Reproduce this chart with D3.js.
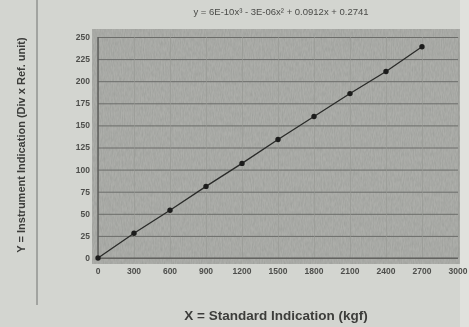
<!DOCTYPE html>
<html>
<head>
<meta charset="utf-8">
<script src="https://cdn.jsdelivr.net/npm/d3@7"></script>
<style>
  html, body { margin: 0; padding: 0; background: #d3d5d0; }
  svg { display: block; font-family: "Liberation Sans", Arial, sans-serif; }
</style>
</head>
<body>
<div id="chart"></div>
<script>
// standard indication (kgf) and instrument indication
const xValues = [0, 300, 600, 900, 1200, 1500, 1800, 2100, 2400, 2700];
const yValues = [0, 28, 54, 81, 107, 134, 160, 186, 211, 239];
const xTicks = [0, 300, 600, 900, 1200, 1500, 1800, 2100, 2400, 2700, 3000];
const yTicks = [0, 25, 50, 75, 100, 125, 150, 175, 200, 225, 250];
const equation = 'y = 6E-10x³ - 3E-06x² + 0.0912x + 0.2741';
const xTitle = 'X = Standard Indication (kgf)';
const yTitle = 'Y = Instrument Indication (Div x Ref. unit)';

const W = 469, H = 327;
const margin = {top: 37, right: 11, bottom: 69, left: 98};
const width = W - margin.left - margin.right;
const height = H - margin.top - margin.bottom;

const svg = d3.select('#chart').append('svg')
    .attr('width', W)
    .attr('height', H);

// soft look of the photographed page
const defs = svg.append('defs');
const blur = defs.append('filter').attr('id', 'soft');
blur.append('feGaussianBlur').attr('stdDeviation', 0.7);

const grain = defs.append('filter').attr('id', 'grain')
    .attr('x', 0).attr('y', 0).attr('width', 1).attr('height', 1);
grain.append('feTurbulence')
    .attr('type', 'fractalNoise')
    .attr('baseFrequency', '0.9 0.2')
    .attr('numOctaves', 2)
    .attr('seed', 4);
grain.append('feColorMatrix')
    .attr('type', 'matrix')
    .attr('values', '0 0 0 0 0.33  0 0 0 0 0.34  0 0 0 0 0.32  0 0 0 -1.3 0.95');
grain.append('feComposite').attr('in2', 'SourceGraphic').attr('operator', 'in');

const root = svg.append('g').attr('filter', 'url(#soft)');

root.append('rect').attr('width', W).attr('height', H).attr('fill', '#d3d5d0');
root.append('rect').attr('x', 460).attr('width', 9).attr('height', H).attr('fill', '#e0e1dd');

// page frame line on the left
root.append('line')
    .attr('x1', 37).attr('x2', 37).attr('y1', 0).attr('y2', 305)
    .attr('stroke', '#707270').attr('stroke-width', 1);

const g = root.append('g')
    .attr('transform', 'translate(' + margin.left + ',' + margin.top + ')');

const x = d3.scaleLinear().domain([0, 3000]).range([0, width]);
const y = d3.scaleLinear().domain([0, 250]).range([height, 0]);

// plot area
g.append('rect')
    .attr('x', -6).attr('y', -8)
    .attr('width', width + 8).attr('height', height + 14)
    .attr('fill', '#adaeaa');
g.append('rect')
    .attr('x', -6).attr('y', -8)
    .attr('width', width + 8).attr('height', height + 14)
    .attr('fill', '#adaeaa')
    .attr('filter', 'url(#grain)');

// grid
g.append('g')
    .call(d3.axisLeft(y).tickValues(yTicks).tickSize(-width).tickFormat(''))
    .call(s => s.select('.domain').remove())
    .call(s => s.selectAll('line').attr('stroke', '#6c6d6a').attr('stroke-width', 1));
g.append('g')
    .attr('transform', 'translate(0,' + height + ')')
    .call(d3.axisBottom(x).tickValues(xTicks).tickSize(-height).tickFormat(''))
    .call(s => s.select('.domain').remove())
    .call(s => s.selectAll('line').attr('stroke', '#979894').attr('stroke-width', 0.6));

// axes lines
g.append('line').attr('x1', 0).attr('x2', 0).attr('y1', 0).attr('y2', height)
    .attr('stroke', '#3a3b39').attr('stroke-width', 1);
g.append('line').attr('x1', 0).attr('x2', width).attr('y1', height).attr('y2', height)
    .attr('stroke', '#5a5b58').attr('stroke-width', 1);

// tick labels
g.selectAll('.xlab').data(xTicks).enter().append('text')
    .attr('x', d => x(d)).attr('y', height + 16)
    .attr('text-anchor', 'middle')
    .attr('font-size', 8.5).attr('font-weight', 'bold').attr('fill', '#4d4e4b')
    .text(d => d);
g.selectAll('.ylab').data(yTicks).enter().append('text')
    .attr('x', -8).attr('y', d => y(d)).attr('dy', '0.35em')
    .attr('text-anchor', 'end')
    .attr('font-size', 8.5).attr('font-weight', 'bold').attr('fill', '#4d4e4b')
    .text(d => d);

// data line and points
const data = xValues.map((v, i) => ({x: v, y: yValues[i]}));
g.append('path')
    .datum(data)
    .attr('fill', 'none')
    .attr('stroke', '#2a2b29')
    .attr('stroke-width', 1.3)
    .attr('d', d3.line().x(d => x(d.x)).y(d => y(d.y)));
g.selectAll('.dot').data(data).enter().append('circle')
    .attr('cx', d => x(d.x)).attr('cy', d => y(d.y))
    .attr('r', 2.7).attr('fill', '#1e1f1d');

// titles
root.append('text')
    .attr('x', 281).attr('y', 15)
    .attr('text-anchor', 'middle')
    .attr('font-size', 9.5).attr('fill', '#4a4b48')
    .text(equation);
root.append('text')
    .attr('x', 276).attr('y', 320)
    .attr('text-anchor', 'middle')
    .attr('font-size', 13.5).attr('font-weight', 'bold').attr('fill', '#3c3d3a')
    .text(xTitle);
root.append('text')
    .attr('transform', 'translate(25,145) rotate(-90)')
    .attr('text-anchor', 'middle')
    .attr('font-size', 11).attr('font-weight', 'bold').attr('fill', '#3c3d3a')
    .text(yTitle);
</script>
</body>
</html>
